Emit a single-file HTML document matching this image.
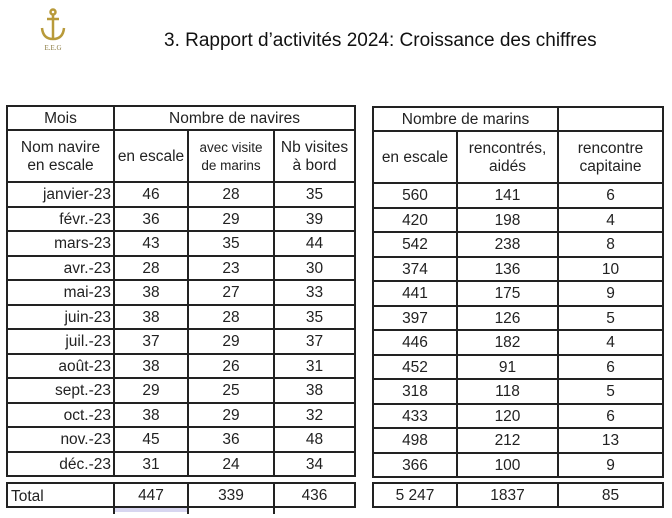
<!DOCTYPE html>
<html><head><meta charset="utf-8"><style>
body{margin:0;width:672px;height:518px;background:#fff;position:relative;overflow:hidden;font-family:"Liberation Sans",Arial,sans-serif;color:#222}
table{position:absolute;border-collapse:collapse;table-layout:fixed}
td{border:2px solid #222;padding:0;text-align:center;font-size:15.5px;line-height:18px;overflow:hidden;white-space:nowrap;padding-top:2px}
tr.r td{height:20.5px}
td.m{text-align:right;padding-right:2px}
.sm{font-size:13.5px}
</style></head><body>
<svg style="position:absolute;left:38px;top:8px" width="30" height="46" viewBox="0 0 30 46">
<g stroke="#b89a3a" fill="none" stroke-width="2.5">
<circle cx="15" cy="4" r="2.5"/><line x1="15" y1="7" x2="15" y2="30"/><line x1="9" y1="11" x2="21" y2="11"/>
<path d="M4 20 Q5 31 15 31 Q25 31 26 20"/></g>
<text x="15" y="42" font-size="7" text-anchor="middle" fill="#8a7a40" font-family="Liberation Serif">E.E.G</text>
</svg>
<div style="position:absolute;left:164px;top:30px;font-size:19px;color:#111">3. Rapport d’activités 2024: Croissance des chiffres</div>

<table style="left:6px;top:105px;width:348px">
<colgroup><col style="width:107px"><col style="width:74px"><col style="width:86px"><col style="width:81px"></colgroup>
<tr><td style="height:20px">Mois</td><td colspan="3">Nombre de navires</td></tr>
<tr><td style="height:48px">Nom navire<br>en escale</td><td>en escale</td><td class="sm">avec visite<br>de marins</td><td>Nb visites<br>à bord</td></tr>
<tr class="r"><td class="m">janvier-23</td><td>46</td><td>28</td><td>35</td></tr>
<tr class="r"><td class="m">févr.-23</td><td>36</td><td>29</td><td>39</td></tr>
<tr class="r"><td class="m">mars-23</td><td>43</td><td>35</td><td>44</td></tr>
<tr class="r"><td class="m">avr.-23</td><td>28</td><td>23</td><td>30</td></tr>
<tr class="r"><td class="m">mai-23</td><td>38</td><td>27</td><td>33</td></tr>
<tr class="r"><td class="m">juin-23</td><td>38</td><td>28</td><td>35</td></tr>
<tr class="r"><td class="m">juil.-23</td><td>37</td><td>29</td><td>37</td></tr>
<tr class="r"><td class="m">août-23</td><td>38</td><td>26</td><td>31</td></tr>
<tr class="r"><td class="m">sept.-23</td><td>29</td><td>25</td><td>38</td></tr>
<tr class="r"><td class="m">oct.-23</td><td>38</td><td>29</td><td>32</td></tr>
<tr class="r"><td class="m">nov.-23</td><td>45</td><td>36</td><td>48</td></tr>
<tr class="r"><td class="m">déc.-23</td><td>31</td><td>24</td><td>34</td></tr>
</table>

<table style="left:372px;top:106px;width:290px">
<colgroup><col style="width:84px"><col style="width:101px"><col style="width:105px"></colgroup>
<tr><td colspan="2" style="height:20px">Nombre de marins</td><td></td></tr>
<tr><td style="height:48px">en escale</td><td>rencontrés,<br>aidés</td><td>rencontre<br>capitaine</td></tr>
<tr class="r"><td>560</td><td>141</td><td>6</td></tr>
<tr class="r"><td>420</td><td>198</td><td>4</td></tr>
<tr class="r"><td>542</td><td>238</td><td>8</td></tr>
<tr class="r"><td>374</td><td>136</td><td>10</td></tr>
<tr class="r"><td>441</td><td>175</td><td>9</td></tr>
<tr class="r"><td>397</td><td>126</td><td>5</td></tr>
<tr class="r"><td>446</td><td>182</td><td>4</td></tr>
<tr class="r"><td>452</td><td>91</td><td>6</td></tr>
<tr class="r"><td>318</td><td>118</td><td>5</td></tr>
<tr class="r"><td>433</td><td>120</td><td>6</td></tr>
<tr class="r"><td>498</td><td>212</td><td>13</td></tr>
<tr class="r"><td>366</td><td>100</td><td>9</td></tr>
</table>

<table style="left:6px;top:482px;width:348px">
<colgroup><col style="width:107px"><col style="width:74px"><col style="width:86px"><col style="width:81px"></colgroup>
<tr><td style="height:20px;text-align:left;padding-left:3px;vertical-align:bottom">Total</td><td>447</td><td>339</td><td>436</td></tr>
</table>
<table style="left:372px;top:482px;width:290px">
<colgroup><col style="width:84px"><col style="width:101px"><col style="width:105px"></colgroup>
<tr><td style="height:20px">5 247</td><td>1837</td><td>85</td></tr>
</table>
<div style="position:absolute;left:114px;top:508px;width:73px;height:4px;background:#d8d6f0"></div>
<div style="position:absolute;left:113px;top:508px;width:2px;height:6px;background:#222"></div>
<div style="position:absolute;left:187px;top:508px;width:2px;height:6px;background:#222"></div>
<div style="position:absolute;left:273px;top:508px;width:2px;height:6px;background:#222"></div>
</body></html>
